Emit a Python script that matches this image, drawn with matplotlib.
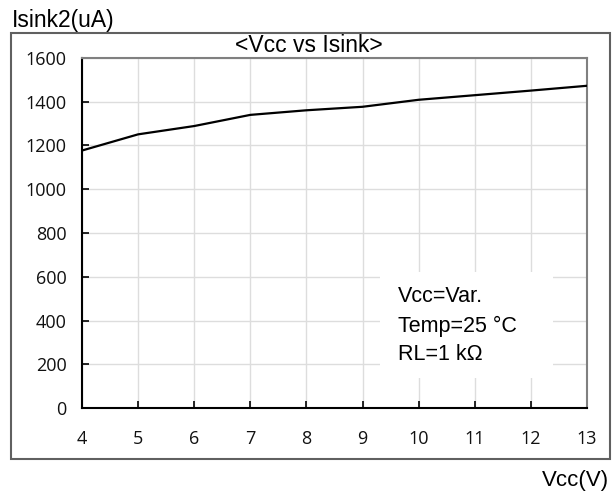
import matplotlib
matplotlib.use("Agg")
import matplotlib.pyplot as plt
from matplotlib.patches import Rectangle

vcc = [4, 5, 6, 7, 8, 9, 10, 11, 12, 13]
isink = [1177, 1251, 1289, 1340, 1361, 1377, 1409, 1430, 1451, 1473]
xticks = [4, 5, 6, 7, 8, 9, 10, 11, 12, 13]
yticks = [0, 200, 400, 600, 800, 1000, 1200, 1400, 1600]

W, H = 616, 494
fig = plt.figure(figsize=(W / 100, H / 100), dpi=100)

def fx(px):
    return px / W

def fy(py):
    return 1 - py / H

# outer frame
fig.patches.append(Rectangle((fx(11), fy(459)), fx(610) - fx(11), fy(33) - fy(459),
                             transform=fig.transFigure, fill=False,
                             edgecolor="#606060", lw=1.5, zorder=0))

ax = fig.add_axes([fx(82), fy(408), fx(587) - fx(82), fy(58) - fy(408)])
ax.plot(vcc, isink, color="black", lw=1.6, zorder=3)
ax.set_xlim(4, 13)
ax.set_ylim(0, 1600)
ax.set_xticks(xticks)
ax.set_yticks(yticks)
ax.grid(True, color="#dddddd", lw=1.0, zorder=0)
ax.set_axisbelow(True)
tickfont = "Open Sans"
ax.tick_params(direction="in", length=5, width=1.2, colors="black", labelsize=13)
ax.tick_params(axis="x", pad=16)
ax.tick_params(axis="y", pad=11)
for lab in ax.get_xticklabels() + ax.get_yticklabels():
    lab.set_fontfamily(tickfont)
    lab.set_color("#111111")
for s in ["left", "bottom"]:
    ax.spines[s].set_color("black")
    ax.spines[s].set_linewidth(1.5)
for s in ["top", "right"]:
    ax.spines[s].set_color("#808080")
    ax.spines[s].set_linewidth(1.5)

# annotation box
box = Rectangle((fx(380), fy(378)), fx(553) - fx(380), fy(272) - fy(378),
                transform=fig.transFigure, facecolor="white", edgecolor="none", zorder=2)
box.set_clip_on(False)
ax.add_artist(box)

font = "Liberation Sans"
fig.text(fx(398), fy(296), "Vcc=Var.", fontsize=15.5, family=font, va="center", ha="left")
fig.text(fx(398), fy(326), "Temp=25 \u00b0C", fontsize=15.5, family=font, va="center", ha="left")
fig.text(fx(398), fy(355), "RL=1 k\u03a9", fontsize=15.5, family=font, va="center", ha="left")

fig.text(fx(309), fy(45), "<Vcc vs Isink>", fontsize=16.5, family=font, va="center", ha="center")
fig.text(fx(12), fy(21), "Isink2(uA)", fontsize=16.5, family=font, va="center", ha="left")
fig.text(fx(609), fy(480), "Vcc(V)", fontsize=16, family=font, va="center", ha="right")

fig.savefig("out.png", dpi=100)
